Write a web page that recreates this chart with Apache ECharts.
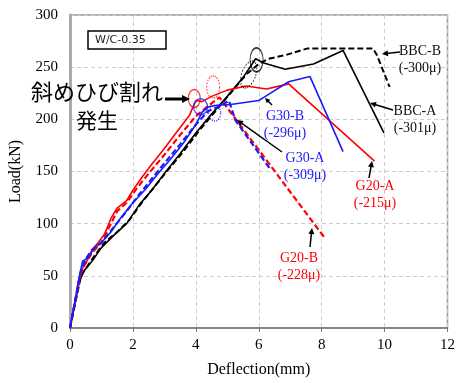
<!DOCTYPE html>
<html>
<head>
<meta charset="utf-8">
<script src="https://cdn.jsdelivr.net/npm/echarts@6/dist/echarts.min.js"></script>
<style>
  html, body { margin: 0; padding: 0; background: #fff; }
  #chart { width: 458px; height: 383px; }
</style>
</head>
<body>
<div id="chart"></div>
<script>
// load-deflection curves [deflection mm, load kN]
const bbcA = [[0,0],[0.3,45],[0.45,55],[0.7,64],[1.0,77],[1.4,89],[1.8,100],[2.2,118],[2.6,132],[3.0,148],[3.5,167],[4.0,187],[4.5,205],[5.0,222],[5.5,240],[5.9,258],[6.16,254],[6.84,248],[7.74,253],[8.68,266],[9.98,187]];
const bbcB = [[0,0],[0.35,50],[0.5,57],[0.8,70],[1.1,82],[1.5,92],[1.9,104],[2.3,121],[2.7,136],[3.1,151],[3.6,169],[4.1,189],[4.6,207],[5.1,225],[5.6,243],[6.0,253],[6.3,258],[6.9,262],[7.55,268],[9.63,268],[9.75,262],[10.16,231]];
const g20A = [[0,0],[0.2,30],[0.35,55],[0.5,62],[0.7,75],[0.9,82],[1.1,90],[1.3,105],[1.5,115],[1.8,122],[2.0,132],[2.3,145],[2.6,157],[3.0,172],[3.4,188],[3.8,204],[4.0,218],[4.2,217],[4.5,222],[5.0,228],[5.6,232],[6.25,229],[6.95,234],[9.68,160]];
const g20B = [[0,0],[0.3,48],[0.45,60],[0.7,72],[1.0,82],[1.3,100],[1.5,112],[1.8,120],[2.1,133],[2.5,148],[3.0,166],[3.5,185],[4.0,203],[4.4,213],[4.75,221],[8.08,87]];
const g30A = [[0,0],[0.35,55],[0.5,66],[0.7,75],[1.0,82],[1.4,97],[1.8,112],[2.2,128],[2.6,143],[3.0,158],[3.5,176],[4.0,195],[4.4,208],[4.8,213],[5.05,218],[5.26,199],[6.37,152]];
const g30B = [[0,0],[0.3,50],[0.4,64],[0.6,68],[0.75,76],[1.0,82],[1.3,92],[1.6,105],[2.0,120],[2.4,133],[2.8,148],[3.2,162],[3.6,177],[4.0,195],[4.2,207],[4.4,212],[4.8,214],[5.05,214],[6.0,218],[6.16,221],[6.95,236],[7.63,241],[8.68,169]];

// crack initiation marks: [x, y, w, h, rotate, color, style]
const crackMarks = [
  [5.93, 257, 13, 24, 0, '#000', 'solid'],
  [5.68, 243, 14, 28, -20, '#000', 'dotted'],
  [3.95, 220, 12, 18, 0, '#ff0000', 'solid'],
  [4.55, 231, 13, 22, 0, '#ff0000', 'dotted'],
  [4.15, 212, 14, 16, 0, '#1a1aff', 'solid'],
  [4.6, 206, 12, 16, 0, '#1a1aff', 'dotted']
];

const xTicks = [0, 2, 4, 6, 8, 10, 12];
const yTicks = [0, 50, 100, 150, 200, 250, 300];

const serif = '"Liberation Serif", "DejaVu Serif", serif';
const RED = '#ff0000', BLUE = '#1a1aff', BLACK = '#000';

function curve(name, data, color, dashed, width) {
  return {
    name: name, type: 'line', data: data, symbol: 'none', silent: true,
    lineStyle: { color: color, width: width || 1.6, type: dashed ? [6, 3] : 'solid' },
    z: 3
  };
}

function arrow(x1, y1, x2, y2, color, w, head) {
  const a = Math.atan2(y2 - y1, x2 - x1);
  const h = head || 6;
  const p1 = [x2 - h * Math.cos(a) + h * 0.5 * Math.sin(a), y2 - h * Math.sin(a) - h * 0.5 * Math.cos(a)];
  const p2 = [x2 - h * Math.cos(a) - h * 0.5 * Math.sin(a), y2 - h * Math.sin(a) + h * 0.5 * Math.cos(a)];
  return [
    { type: 'line', shape: { x1: x1, y1: y1, x2: x2 - h * 0.7 * Math.cos(a), y2: y2 - h * 0.7 * Math.sin(a) }, style: { stroke: color, lineWidth: w }, z: 10 },
    { type: 'polygon', shape: { points: [[x2, y2], p1, p2] }, style: { fill: color }, z: 10 }
  ];
}

function label(x, y, text, color) {
  return { type: 'text', x: x, y: y, z: 10, style: { text: text, fill: color, font: '14px ' + serif, align: 'center', verticalAlign: 'middle', lineHeight: 17 } };
}

const chart = echarts.init(document.getElementById('chart'));

const graphics = [
  { type: 'rect', shape: { x: 88, y: 31, width: 78, height: 18 }, style: { fill: '#fff', stroke: '#000', lineWidth: 1.5 }, z: 10 },
  { type: 'text', x: 95, y: 40, z: 11, style: { text: 'W/C-0.35', fill: '#222', font: '11px "DejaVu Sans", sans-serif', verticalAlign: 'middle' } },
  { type: 'text', x: 31, y: 92, z: 11, style: { text: '斜めひび割れ', fill: '#000', font: '22px "Noto Sans CJK JP", sans-serif', verticalAlign: 'middle' } },
  { type: 'text', x: 76, y: 120, z: 11, style: { text: '発生', fill: '#000', font: '21px "Noto Sans CJK JP", sans-serif', verticalAlign: 'middle' } },
  label(420, 60, 'BBC-B\n(-300μ)', '#111'),
  label(415, 120, 'BBC-A\n(-301μ)', '#111'),
  label(285, 125, 'G30-B\n(-296μ)', BLUE),
  label(305, 167, 'G30-A\n(-309μ)', BLUE),
  label(375, 195, 'G20-A\n(-215μ)', RED),
  label(299, 267, 'G20-B\n(-228μ)', RED)
].concat(
  arrow(165, 99, 190, 99, '#000', 3, 8),
  arrow(400, 52, 382, 54, '#000', 1.5, 6),
  arrow(393, 110, 370, 103, '#000', 1.5, 6),
  arrow(272, 105, 265, 98, '#000', 1.5, 5),
  arrow(282, 152, 237, 120, '#000', 1.5, 6),
  arrow(369, 178, 372, 161, '#000', 1.5, 6),
  arrow(310, 247, 312, 228, '#000', 1.5, 6)
);

const option = {
  animation: false,
  backgroundColor: '#fff',
  grid: { left: 70, right: 8, top: 15, bottom: 51, show: true, borderColor: '#999', borderWidth: 1.5 },
  xAxis: {
    type: 'value', min: xTicks[0], max: xTicks[xTicks.length - 1], interval: 2,
    name: 'Deflection(mm)', nameLocation: 'middle', nameGap: 34,
    nameTextStyle: { fontFamily: serif, fontSize: 16, color: '#000' },
    axisLine: { show: true, onZero: false, lineStyle: { color: '#777', width: 1.5 } },
    axisTick: { show: true, length: 4, lineStyle: { color: '#777' } },
    axisLabel: { fontFamily: serif, fontSize: 15, color: '#000', margin: 10 },
    splitLine: { show: true, lineStyle: { color: '#ccc', type: [4, 3] } }
  },
  yAxis: {
    type: 'value', min: yTicks[0], max: yTicks[yTicks.length - 1], interval: 50,
    name: 'Load(kN)', nameLocation: 'middle', nameGap: 46, nameRotate: 90,
    nameTextStyle: { fontFamily: serif, fontSize: 16, color: '#000' },
    axisLine: { show: true, lineStyle: { color: '#aaa', width: 3 } },
    axisTick: { show: false },
    axisLabel: { fontFamily: serif, fontSize: 15, color: '#000', margin: 12 },
    splitLine: { show: true, lineStyle: { color: '#ccc', type: [4, 3] } }
  },
  series: [
    curve('BBC-A', bbcA, BLACK, false, 1.6),
    curve('BBC-B', bbcB, BLACK, true, 2),
    curve('G20-A', g20A, RED, false, 1.6),
    curve('G20-B', g20B, RED, true, 2.2),
    curve('G30-A', g30A, BLUE, true, 2.2),
    curve('G30-B', g30B, BLUE, false, 1.6),
    {
      type: 'scatter', silent: true, z: 4,
      data: crackMarks.map(m => ({
        value: [m[0], m[1]],
        symbolSize: [m[2], m[3]],
        symbolRotate: m[4],
        itemStyle: { color: 'transparent', borderColor: m[5], borderWidth: 1.3, borderType: m[6] }
      })),
      symbol: 'circle'
    }
  ],
  graphic: graphics
};

chart.setOption(option);
</script>
</body>
</html>
